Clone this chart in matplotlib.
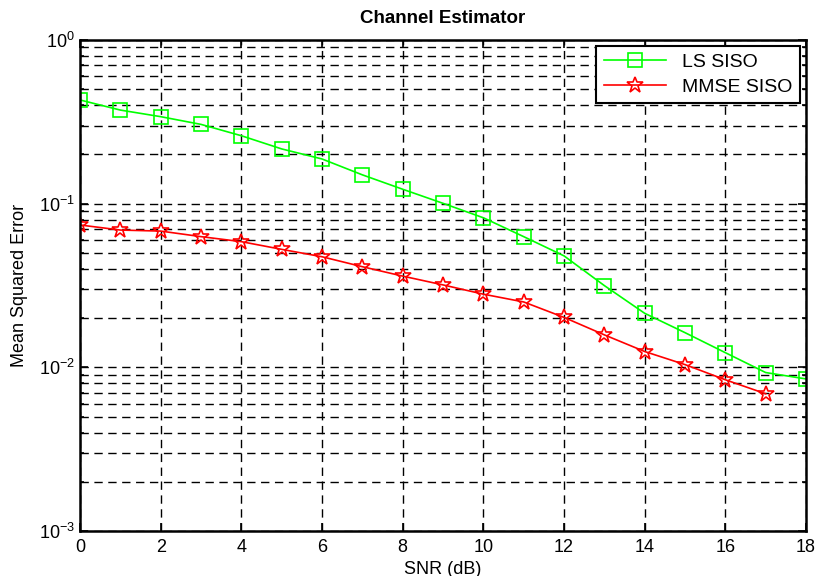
import matplotlib
matplotlib.use('Agg')
import matplotlib.pyplot as plt
import numpy as np

plt.rcParams['font.family'] = ['Liberation Sans', 'DejaVu Sans']
plt.rcParams['mathtext.fontset'] = 'custom'
plt.rcParams['mathtext.rm'] = 'Liberation Sans'
plt.rcParams['mathtext.it'] = 'Liberation Sans'

# SNR values (dB)
snr_ls = [0, 1, 2, 3, 4, 5, 6, 7, 8, 9, 10, 11, 12, 13, 14, 15, 16, 17, 18]
snr_mmse = [0, 1, 2, 3, 4, 5, 6, 7, 8, 9, 10, 11, 12, 13, 14, 15, 16, 17]

# mean squared error
mse_ls = [0.43, 0.373, 0.34, 0.305, 0.26, 0.216, 0.1875, 0.15, 0.1225, 0.1005,
          0.082, 0.0629, 0.048, 0.0316, 0.0214, 0.0163, 0.0123, 0.0093, 0.0085]
mse_mmse = [0.0741, 0.069, 0.068, 0.0629, 0.0586, 0.0526, 0.0474, 0.0412, 0.0361,
            0.0319, 0.028, 0.0251, 0.0202, 0.0158, 0.0125, 0.0104, 0.0084, 0.0069]

labels = ['LS SISO', 'MMSE SISO']

fig = plt.figure(figsize=(8.17, 5.76), dpi=100)
ax = fig.add_axes([0.098, 0.078, 0.8885, 0.8526])

ax.semilogy(snr_ls, mse_ls, '-', color='#00ff00', lw=1.2, marker='s', ms=10,
            mfc='none', mec='#00ff00', mew=1.2, label=labels[0])
ax.semilogy(snr_mmse, mse_mmse, '-', color='#ff0000', lw=1.2, marker='*', ms=12,
            mfc='none', mec='#ff0000', mew=1.2, label=labels[1])

ax.set_xlim(0, 18)
ax.set_ylim(1e-3, 1)
ax.set_xticks(np.arange(0, 19, 2))

# matlab style dashed grid
dash = (0, (6, 4))
ax.grid(True, which='major', color='black', linestyle=dash, lw=1)
ax.grid(True, which='minor', axis='y', color='black', linestyle=dash, lw=1)

ax.tick_params(which='both', direction='in', top=True, right=True,
               labelsize=13, width=1.2)
ax.tick_params(axis='x', pad=6)
ax.tick_params(which='major', length=6)
ax.tick_params(which='minor', length=3)
for s in ax.spines.values():
    s.set_linewidth(1.8)

ax.set_title('Channel Estimator', fontsize=13.5, fontweight='bold', pad=12)
ax.set_xlabel('SNR (dB)', fontsize=13, labelpad=3)
ax.set_ylabel('Mean Squared Error', fontsize=13, labelpad=8)

leg = ax.legend(loc='upper right', fontsize=14, fancybox=False, framealpha=1,
                edgecolor='black', borderaxespad=0.3, handlelength=3.2,
                labelspacing=0.35)
leg.get_frame().set_linewidth(1.5)

fig.savefig('out.png', dpi=100)
